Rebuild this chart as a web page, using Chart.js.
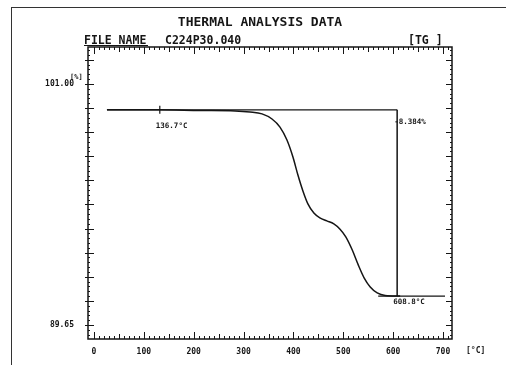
<!DOCTYPE html>
<html>
<head>
<meta charset="utf-8">
<script src="https://cdn.jsdelivr.net/npm/chart.js@4"></script>
<style>
  html, body { margin: 0; padding: 0; background: #fff; }
  #wrap { position: relative; width: 506px; height: 365px; overflow: hidden; }
  #frame { position: absolute; left: 11px; top: 7px; width: 520px; height: 400px;
           border-left: 1px solid #333; border-top: 1px solid #333; }
  canvas { position: absolute; left: 0; top: 0; }
</style>
</head>
<body>
<div id="wrap">
  <div id="frame"></div>
  <canvas id="tgChart" width="506" height="365"></canvas>
</div>
<script>
// TG curve (temperature in deg C, mass in %)
const tempC = [26, 132, 213, 283, 313, 337, 357, 373, 387, 399, 409, 419, 429, 441, 453, 467, 481, 493, 505, 518, 530, 542, 554, 568, 584, 614];
const massPct = [99.78, 99.78, 99.75, 99.73, 99.68, 99.59, 99.35, 98.97, 98.36, 97.56, 96.71, 95.96, 95.35, 94.92, 94.69, 94.55, 94.41, 94.17, 93.80, 93.18, 92.48, 91.86, 91.44, 91.16, 91.04, 91.01];

// construction lines
const baselineT = [26, 608];
const baselineY = [99.78, 99.78];
const stepT = [608, 608];
const stepY = [99.78, 91.01];
const finalT = [570, 704];
const finalY = [91.01, 91.01];
const onsetT = 132;
const onsetY = 99.78;

// labels
const xTickValues = [0, 100, 200, 300, 400, 500, 600, 700];
const yTickValues = [101.00, 89.65];
const yStep = 1.135;
const onsetLabel = "136.7°C";
const lossLabel = "-8.384%";
const endLabel = "608.8°C";

const ink = "#151515";
const mono = "'DejaVu Sans Mono', 'Liberation Mono', monospace";

function pts(xs, ys) {
    return xs.map((x, i) => ({ x: x, y: ys[i] }));
}

const tgDecor = {
    id: "tgDecor",
    afterDraw(chart) {
        const ctx = chart.ctx;
        const a = chart.chartArea;
        const xs = chart.scales.x;
        const ys = chart.scales.y;
        ctx.save();
        ctx.strokeStyle = ink;
        ctx.fillStyle = ink;

        // plot box
        ctx.lineWidth = 1.5;
        ctx.strokeRect(a.left, a.top, a.right - a.left, a.bottom - a.top);

        // inward ticks, x (every 10 deg)
        ctx.lineWidth = 1;
        ctx.beginPath();
        for (let t = 0; t <= xs.max; t += 10) {
            const px = Math.round(xs.getPixelForValue(t)) + 0.5;
            const len = t % 100 === 0 ? 7 : (t % 50 === 0 ? 5 : 3);
            ctx.moveTo(px, a.bottom); ctx.lineTo(px, a.bottom - len);
            ctx.moveTo(px, a.top); ctx.lineTo(px, a.top + len);
        }
        // inward ticks, y (5 per major step)
        const sub = yStep / 5;
        for (let k = -10; k <= 70; k++) {
            const v = yTickValues[1] + k * sub;
            if (v < ys.min || v > ys.max) continue;
            const py = Math.round(ys.getPixelForValue(v)) + 0.5;
            const major = k % 5 === 0;
            const len = major ? 6 : 2;
            ctx.moveTo(a.left - (major ? 3 : 0), py); ctx.lineTo(a.left + len, py);
            ctx.moveTo(a.right, py); ctx.lineTo(a.right - len, py);
        }
        ctx.stroke();

        // onset marker
        const ox = xs.getPixelForValue(onsetT);
        const oy = ys.getPixelForValue(onsetY);
        ctx.lineWidth = 1.2;
        ctx.beginPath();
        ctx.moveTo(ox, oy - 4); ctx.lineTo(ox, oy + 4);
        ctx.stroke();

        // header texts
        ctx.textBaseline = "alphabetic";
        ctx.textAlign = "center";
        ctx.font = "bold 13px " + mono;
        ctx.fillText("THERMAL ANALYSIS DATA", 260, 26);
        ctx.textAlign = "left";
        ctx.font = "bold 11.5px " + mono;
        ctx.fillText("FILE NAME", 84, 44);
        ctx.fillText("C224P30.040", 165, 44);
        ctx.fillText("[TG ]", 408, 44);
        ctx.lineWidth = 1;
        ctx.beginPath();
        ctx.moveTo(84, 45.5); ctx.lineTo(148, 45.5);
        ctx.stroke();

        // unit labels
        ctx.font = "bold 7px " + mono;
        ctx.fillText("[%]", 70, 79);
        ctx.font = "bold 8px " + mono;
        ctx.fillText("[°C]", 466, 353);

        // annotations
        ctx.font = "bold 7.5px " + mono;
        ctx.textBaseline = "top";
        ctx.fillText(onsetLabel, ox - 4, oy + 12);
        const sx = xs.getPixelForValue(stepT[0]);
        ctx.fillText(lossLabel, sx - 3, oy + 8);
        ctx.fillText(endLabel, sx - 4, ys.getPixelForValue(finalY[0]) + 2);
        ctx.restore();
    }
};

new Chart(document.getElementById("tgChart"), {
    type: "line",
    data: {
        datasets: [
            { data: pts(tempC, massPct), borderColor: ink, borderWidth: 1.5, tension: 0.4, cubicInterpolationMode: "monotone" },
            { data: pts(baselineT, baselineY), borderColor: ink, borderWidth: 1.2 },
            { data: pts(stepT, stepY), borderColor: ink, borderWidth: 1.5 },
            { data: pts(finalT, finalY), borderColor: ink, borderWidth: 1.2 },
        ],
    },
    options: {
        responsive: false,
        animation: false,
        events: [],
        layout: { padding: { left: 20, right: 54, top: 47, bottom: 0 } },
        elements: { point: { radius: 0 } },
        plugins: { legend: { display: false }, tooltip: { enabled: false }, title: { display: false } },
        scales: {
            x: {
                type: "linear",
                min: -12,
                max: 718,
                grid: { display: false },
                border: { display: false },
                afterBuildTicks: (s) => { s.ticks = xTickValues.map(v => ({ value: v })); },
                afterFit: (s) => { s.height = 26; },
                ticks: {
                    autoSkip: false, maxRotation: 0, padding: 0,
                    color: ink, font: { family: mono, size: 8, weight: "bold" },
                    callback: (v) => String(v),
                },
            },
            y: {
                min: 88.99,
                max: 102.74,
                grid: { display: false },
                border: { display: false },
                afterBuildTicks: (s) => { s.ticks = yTickValues.map(v => ({ value: v })); },
                afterFit: (s) => { s.width = 68; },
                ticks: {
                    padding: 6,
                    color: ink, font: { family: mono, size: 8, weight: "bold" },
                    callback: (v) => Number(v).toFixed(2),
                },
            },
        },
    },
    plugins: [tgDecor],
});
</script>
</body>
</html>
